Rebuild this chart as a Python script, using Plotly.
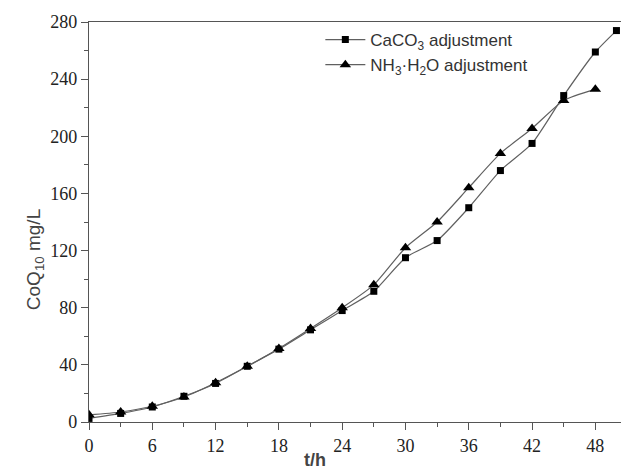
import plotly.graph_objects as go

t_caco3 = [0, 3, 6, 9, 12, 15, 18, 21, 24, 27, 30, 33, 36, 39, 42, 45, 48, 50]
caco3 = [2.5, 6, 10.5, 18, 27, 39, 51, 64.5, 78, 91.5, 115, 127, 150, 176, 195, 228.5, 259, 274]
t_nh3 = [0, 3, 6, 9, 12, 15, 18, 21, 24, 27, 30, 33, 36, 39, 42, 45, 48]
nh3 = [5, 7, 11, 17.5, 27.5, 39, 51.5, 65.5, 80, 96, 122, 140, 164, 188, 205.5, 225, 233]

x_ticks = [0, 6, 12, 18, 24, 30, 36, 42, 48]
y_ticks = [0, 40, 80, 120, 160, 200, 240, 280]

fig = go.Figure()
fig.add_trace(go.Scatter(
    x=t_caco3, y=caco3, mode="lines+markers",
    name="CaCO<sub>3</sub> adjustment",
    line=dict(color="#606060", width=1.2, shape="spline", smoothing=0.6),
    marker=dict(symbol="square", size=7, color="#000000"),
))
fig.add_trace(go.Scatter(
    x=t_nh3, y=nh3, mode="lines+markers",
    name="NH<sub>3</sub>·H<sub>2</sub>O adjustment",
    line=dict(color="#606060", width=1.2, shape="spline", smoothing=0.6),
    marker=dict(symbol="triangle-up", size=10, color="#000000"),
))

axis_common = dict(
    showline=True, linecolor="#555555", linewidth=1.3, mirror=True,
    showgrid=False, zeroline=False,
    ticks="outside", ticklen=7, tickwidth=1.3, tickcolor="#555555",
    tickfont=dict(family="Liberation Serif", size=18, color="#222222"),
)

fig.update_xaxes(
    range=[0, 51], tickvals=x_ticks, ticktext=[str(v) for v in x_ticks],
    minor=dict(dtick=3, tick0=0, ticks="outside", ticklen=4, tickwidth=1.3, tickcolor="#555555"),
    **axis_common,
)
fig.update_yaxes(
    range=[0, 280], tickvals=y_ticks, ticktext=[str(v) for v in y_ticks],
    minor=dict(dtick=20, tick0=0, ticks="outside", ticklen=4, tickwidth=1.3, tickcolor="#555555"),
    **axis_common,
)

fig.update_layout(
    width=621, height=465,
    margin=dict(l=81, r=2, t=14, b=51),
    paper_bgcolor="white", plot_bgcolor="white",
    showlegend=True,
    legend=dict(
        x=0.43, y=1.0, xanchor="left", yanchor="top",
        bgcolor="rgba(0,0,0,0)",
        font=dict(family="Liberation Sans", size=17, color="#333333"),
        itemwidth=40,
    ),
    annotations=[
        dict(text="CoQ<sub>10</sub> mg/L", x=-0.1, y=0.405, xref="paper", yref="paper",
             xanchor="center", yanchor="middle",
             showarrow=False, textangle=-90,
             font=dict(family="Liberation Sans", size=19, color="#444444")),
        dict(text="<b>t/h</b>", x=0.42, y=-0.095, xref="paper", yref="paper",
             xanchor="center", yanchor="middle", showarrow=False,
             font=dict(family="Liberation Sans", size=18, color="#444444")),
    ],
)

fig.write_html("out.html")
